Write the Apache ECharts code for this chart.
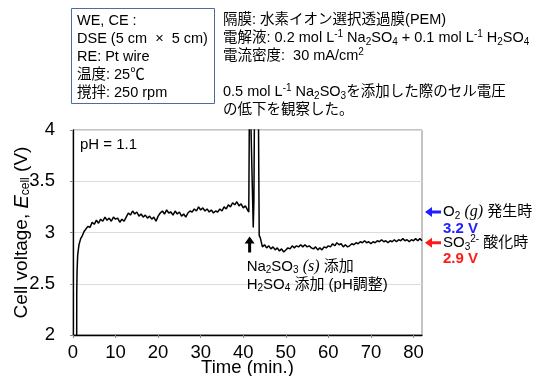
<!DOCTYPE html>
<html>
<head>
<meta charset="utf-8">
<script src="https://cdn.jsdelivr.net/npm/echarts@6/dist/echarts.min.js"></script>
<style>
  html, body { margin: 0; padding: 0; background: #fff; }
  #main { width: 535px; height: 376px; }
</style>
</head>
<body>
<div id="main"></div>
<script>
// セル電圧の経時変化 (Time [min], Ecell [V])
var startUp = [
  [0.85, 1.5], [0.88, 2.4], [0.95, 2.62], [1.1, 2.78], [1.4, 2.88], [1.8, 2.94],
  [2.2, 2.97], [2.6, 3.01]
];
var beforeAddition = [
  [3.0, 3.02], [3.5, 3.06], [4.0, 3.05], [4.5, 3.1], [5.0, 3.08], [5.5, 3.12],
  [6.0, 3.09], [6.5, 3.13], [7.0, 3.11], [7.5, 3.15], [8.0, 3.12], [8.5, 3.14],
  [9.0, 3.11], [9.5, 3.15], [10.0, 3.13], [10.5, 3.14], [11.0, 3.1], [11.5, 3.13],
  [12.0, 3.11], [12.5, 3.15], [13.0, 3.19], [13.5, 3.17], [14.0, 3.21], [14.5, 3.18],
  [15.0, 3.2], [15.5, 3.16], [16.0, 3.18], [16.5, 3.15], [17.0, 3.17], [17.5, 3.14],
  [18.0, 3.16], [18.5, 3.13], [19.0, 3.15], [19.5, 3.11], [20.0, 3.16], [20.5, 3.19],
  [21.0, 3.21], [21.5, 3.18], [22.0, 3.22], [22.5, 3.19], [23.0, 3.2], [23.5, 3.17],
  [24.0, 3.21], [24.5, 3.18], [25.0, 3.2], [25.5, 3.16], [26.0, 3.18], [26.5, 3.15],
  [27.0, 3.19], [27.5, 3.21], [28.0, 3.2], [28.5, 3.23], [29.0, 3.21], [29.5, 3.25],
  [30.0, 3.22], [30.5, 3.24], [31.0, 3.21], [31.5, 3.23], [32.0, 3.2], [32.5, 3.22],
  [33.0, 3.19], [33.5, 3.21], [34.0, 3.2], [34.5, 3.23], [35.0, 3.21], [35.5, 3.25],
  [36.0, 3.23], [36.5, 3.27], [37.0, 3.25], [37.5, 3.29], [38.0, 3.27], [38.5, 3.3],
  [39.0, 3.26], [39.5, 3.28], [40.0, 3.24], [40.5, 3.26], [41.0, 3.22], [41.3, 3.2]
];
// 添加直後のスパイク (4 V を超える部分は描画範囲外)
var spike = [
  [41.5, 4.6], [41.7, 4.6], [42.35, 3.05], [42.5, 3.3], [42.7, 4.6], [43.5, 4.6],
  [43.75, 2.97]
];
var afterAddition = [
  [44.0, 2.95], [44.5, 2.86], [45.0, 2.88], [45.5, 2.85], [46.0, 2.87], [46.5, 2.84],
  [47.0, 2.86], [47.5, 2.83], [48.0, 2.85], [48.5, 2.82], [49.0, 2.84], [49.5, 2.81],
  [50.0, 2.83], [50.5, 2.85], [51.0, 2.84], [51.5, 2.87], [52.0, 2.85], [52.5, 2.87],
  [53.0, 2.86], [53.5, 2.88], [54.0, 2.86], [54.5, 2.88], [55.0, 2.86], [55.5, 2.87],
  [56.0, 2.85], [56.5, 2.84], [57.0, 2.86], [57.5, 2.83], [58.0, 2.85], [58.5, 2.83],
  [59.0, 2.86], [59.5, 2.85], [60.0, 2.87], [60.5, 2.86], [61.0, 2.89], [61.5, 2.87],
  [62.0, 2.9], [62.5, 2.88], [63.0, 2.89], [63.5, 2.86], [64.0, 2.88], [64.5, 2.86],
  [65.0, 2.87], [65.5, 2.89], [66.0, 2.88], [66.5, 2.9], [67.0, 2.89], [67.5, 2.91],
  [68.0, 2.9], [68.5, 2.92], [69.0, 2.9], [69.5, 2.91], [70.0, 2.89], [70.5, 2.91],
  [71.0, 2.9], [71.5, 2.92], [72.0, 2.91], [72.5, 2.93], [73.0, 2.91], [73.5, 2.92],
  [74.0, 2.9], [74.5, 2.92], [75.0, 2.91], [75.5, 2.93], [76.0, 2.91], [76.5, 2.93],
  [77.0, 2.92], [77.5, 2.94], [78.0, 2.92], [78.5, 2.93], [79.0, 2.91], [79.5, 2.93],
  [80.0, 2.92], [80.5, 2.94], [81.0, 2.92], [81.5, 2.94], [82.0, 2.92]
];
var o2Level = 3.2;
var so3Level = 2.9;
var additionTime = 41.5;

var FONT = "'Liberation Sans', 'Noto Sans CJK JP', sans-serif";
var richSubSup = {
  sub: { fontSize: 10, lineHeight: 10, verticalAlign: 'bottom', fontFamily: FONT },
  sup: { fontSize: 10, lineHeight: 10, verticalAlign: 'top', fontFamily: FONT },
  it: { fontSize: 16, fontFamily: "'Liberation Serif', serif", fontStyle: 'italic' }
};

var myChart = echarts.init(document.getElementById('main'));
var option = {
  animation: false,
  backgroundColor: '#fff',
  textStyle: { fontFamily: FONT },
  grid: {
    left: 73, right: 113, top: 130, bottom: 41, outerBoundsMode: 'none',
    show: true, borderColor: '#888', borderWidth: 1
  },
  xAxis: {
    type: 'value', min: 0, max: 82, interval: 10,
    name: 'Time (min.)', nameLocation: 'middle', nameGap: 24, nameMoveOverlap: false,
    nameTextStyle: { fontSize: 18.5, color: '#000', fontFamily: FONT },
    axisLine: { show: true, lineStyle: { color: '#000', width: 1.3 } },
    axisTick: { show: true, length: 3, lineStyle: { color: '#888' } },
    axisLabel: { fontSize: 18.5, color: '#000', margin: 9, showMaxLabel: false },
    splitLine: { show: false }
  },
  yAxis: {
    type: 'value', min: 2, max: 4, interval: 0.5,
    name: 'Cell voltage, {it|E}{sub|cell} (V)', nameLocation: 'middle', nameGap: 41,
    nameMoveOverlap: false,
    nameTextStyle: {
      fontSize: 19, color: '#000', fontFamily: FONT,
      rich: {
        it: { fontSize: 20, fontFamily: "'Liberation Sans', sans-serif", fontStyle: 'italic', color: '#000' },
        sub: { fontSize: 12, lineHeight: 13, verticalAlign: 'bottom', color: '#000' }
      }
    },
    axisLine: { show: true, lineStyle: { color: '#000', width: 1.3 } },
    axisTick: { show: true, length: 3, lineStyle: { color: '#888' } },
    axisLabel: { fontSize: 18.5, color: '#000', margin: 18 },
    splitLine: { show: true, lineStyle: { color: '#dcdcdc' } }
  },
  series: [{
    name: 'Ecell', type: 'line', showSymbol: false, clip: true,
    lineStyle: { color: '#000', width: 1.5 },
    data: startUp.concat(beforeAddition, spike, afterAddition)
  }]
};
myChart.setOption(option);

var yO2 = myChart.convertToPixel({ yAxisIndex: 0 }, o2Level);
var ySO3 = myChart.convertToPixel({ yAxisIndex: 0 }, so3Level);
var xAdd = myChart.convertToPixel({ xAxisIndex: 0 }, additionTime);
var yArrowTip = myChart.convertToPixel({ yAxisIndex: 0 }, 2.96);
var xRight = myChart.convertToPixel({ xAxisIndex: 0 }, 82);

function leftArrow(x0, y, color) {
  return {
    type: 'polygon',
    shape: { points: [[x0, y], [x0 + 7, y - 5], [x0 + 7, y - 1.5], [x0 + 16, y - 1.5],
      [x0 + 16, y + 1.5], [x0 + 7, y + 1.5], [x0 + 7, y + 5]] },
    style: { fill: color }
  };
}

myChart.setOption({
  graphic: [
    { type: 'rect', shape: { x: 71.5, y: 8.5, width: 143, height: 95 },
      style: { fill: '#fff', stroke: '#4f6d96', lineWidth: 1 } },
    { type: 'text', x: 77, y: 12,
      style: { text: 'WE, CE :\nDSE (5 cm  ×  5 cm)\nRE: Pt wire\n温度: 25℃\n撹拌: 250 rpm',
        fontSize: 14.5, lineHeight: 18, fontFamily: FONT, fill: '#000' } },
    { type: 'text', x: 223, y: 11,
      style: {
        text: '隔膜: 水素イオン選択透過膜(PEM)\n' +
          '電解液: 0.2 mol L{sup|-1} Na{sub|2}SO{sub|4} + 0.1 mol L{sup|-1} H{sub|2}SO{sub|4}\n' +
          '電流密度:  30 mA/cm{sup|2}\n \n' +
          '0.5 mol L{sup|-1} Na{sub|2}SO{sub|3}を添加した際のセル電圧\n' +
          'の低下を観察した。',
        fontSize: 14.5, lineHeight: 18, fontFamily: FONT, fill: '#000', rich: richSubSup } },
    { type: 'text', x: 80, y: 137,
      style: { text: 'pH = 1.1', fontSize: 15, fontFamily: FONT, fill: '#000' } },
    {
      type: 'polygon',
      shape: { points: [[xAdd, yArrowTip], [xAdd + 5, yArrowTip + 7], [xAdd + 1.5, yArrowTip + 7],
        [xAdd + 1.5, yArrowTip + 16], [xAdd - 1.5, yArrowTip + 16], [xAdd - 1.5, yArrowTip + 7],
        [xAdd - 5, yArrowTip + 7]] },
      style: { fill: '#000' }
    },
    { type: 'text', x: xAdd - 3, y: yArrowTip + 21,
      style: { text: 'Na{sub|2}SO{sub|3} {it|(s)} 添加\nH{sub|2}SO{sub|4} 添加 (pH調整)',
        fontSize: 15, lineHeight: 18, fontFamily: FONT, fill: '#000', rich: richSubSup } },
    leftArrow(xRight + 3, yO2, '#1f1fff'),
    leftArrow(xRight + 3, ySO3, '#ff1a1a'),
    { type: 'text', x: xRight + 21, y: yO2 - 9,
      style: { text: 'O{sub|2} {it|(g)} 発生時', fontSize: 15, lineHeight: 18, fontFamily: FONT,
        fill: '#000', rich: richSubSup } },
    { type: 'text', x: xRight + 21, y: yO2 + 9,
      style: { text: '3.2 V', fontSize: 15, fontWeight: 'bold', fontFamily: FONT, fill: '#1f1fff' } },
    { type: 'text', x: xRight + 21, y: ySO3 - 9,
      style: { text: 'SO{sub|3}{sup|2-} 酸化時', fontSize: 15, lineHeight: 18, fontFamily: FONT,
        fill: '#000', rich: richSubSup } },
    { type: 'text', x: xRight + 21, y: ySO3 + 9,
      style: { text: '2.9 V', fontSize: 15, fontWeight: 'bold', fontFamily: FONT, fill: '#ff1a1a' } }
  ]
});
</script>
</body>
</html>
